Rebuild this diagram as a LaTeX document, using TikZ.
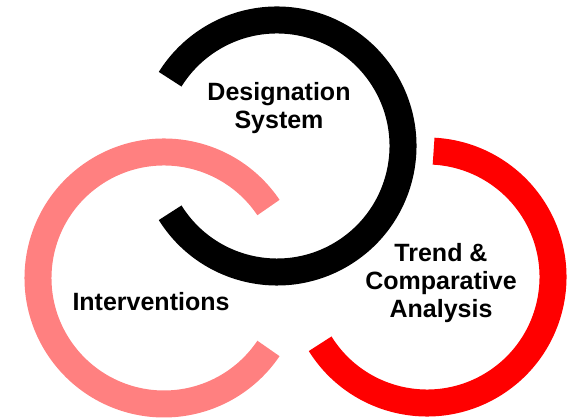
\documentclass[tikz,border=0pt]{standalone}
\usepackage{fontspec}
\setmainfont{Liberation Sans}
\usetikzlibrary{positioning}
\definecolor{ringpink}{RGB}{255,128,128}
\definecolor{ringred}{RGB}{255,0,0}
\tikzset{ring/.style={line width=27pt}}
\tikzset{ringtext/.style={font=\fontsize{25}{28}\selectfont\bfseries,align=center}}

\begin{document}
\begin{tikzpicture}[x=1pt, y=1pt]
\useasboundingbox (0,0) rectangle (571,419);

% Open rings
\foreach \cx/\cy/\from/\to/\col/\n in {277/273/-148/148/black/design, 164/141/34/326/ringpink/interv, 427/142/-148/87/ringred/trend}
{
\coordinate (\n-centre) at (\cx,\cy);
\draw [ring, draw=\col] (\n-centre) ++(\from:126) arc [start angle=\from, end angle=\to, radius=126];
}

\node [ringtext] (design-text) at (279,311) {Designation\\System};
\node [ringtext] (interv-text) at (151,117) {Interventions};
\node [ringtext] (trend-text) at (441,136) {Trend \&\\Comparative\\Analysis};
\end{tikzpicture}
\end{document}
